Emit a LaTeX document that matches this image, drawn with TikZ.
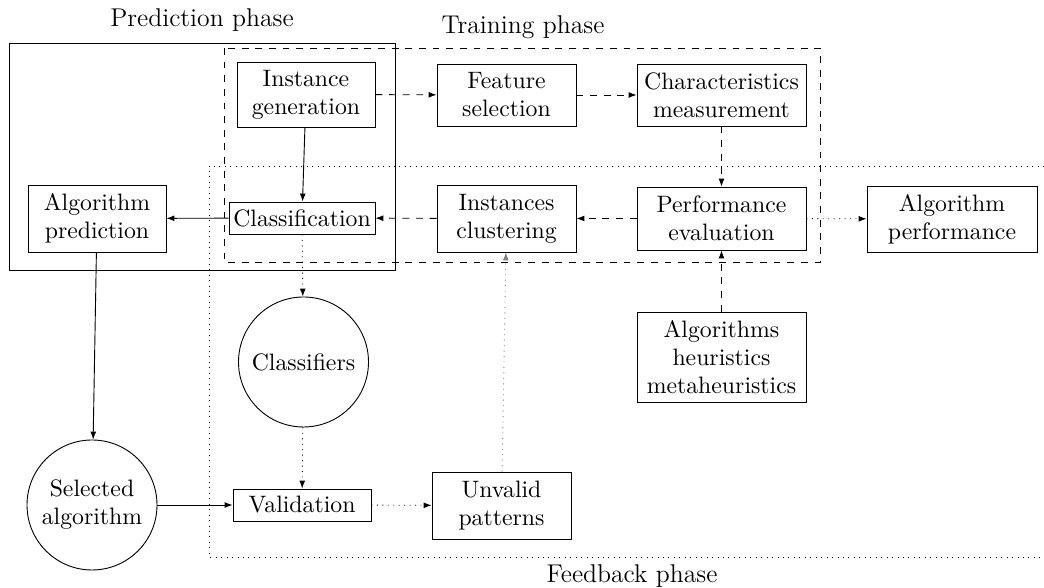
\documentclass[tikz,border=0pt]{standalone}
\usetikzlibrary{arrows.meta,shapes.geometric}
\begin{document}
\def\px{0.44pt}
\begin{tikzpicture}[x=0.44pt,y=-0.44pt,line width=0.4pt,
  every node/.style={font=\fontsize{10.45}{12.3}\selectfont},
  box/.style={draw, rectangle, align=center, inner sep=0pt},
  rnd/.style={draw, circle, align=center, inner sep=0pt, minimum size=130*\px},
  title/.style={font=\fontsize{11.3}{13.5}\selectfont},
  arr/.style={-{Latex[length=3.5pt,width=2.6pt]}}]
\useasboundingbox (0,0) rectangle (1044,588);

% phase frames
\draw (9,43) rectangle (395,270);
\draw[dashed] (224,48) rectangle (820,262);
\draw[dotted] (1044,166) -- (209,166) -- (209,557) -- (1044,557);
\node[title] (tpred) at (202,20) {Prediction phase};
\node[title] (ttrain) at (523,27) {Training phase};
\node[title] (tfeed) at (632,576) {Feedback phase};

% nodes
\node[box, minimum width=138*\px, minimum height=65*\px] (ig) at (306,94.5) {Instance\\generation};
\node[box, minimum width=139*\px, minimum height=62*\px] (fs) at (506.5,95) {Feature\\selection};
\node[box, minimum width=169*\px, minimum height=62*\px] (cm) at (721.5,95) {Characteristics\\measurement};
\node[box, minimum width=138*\px, minimum height=67*\px] (ap) at (97,218.5) {Algorithm\\prediction};
\node[box, minimum width=146*\px, minimum height=32*\px] (cl) at (302,218) {Classification};
\node[box, minimum width=139*\px, minimum height=67*\px] (ic) at (506.5,218.5) {Instances\\clustering};
\node[box, minimum width=169*\px, minimum height=63*\px] (pe) at (721.5,218.5) {Performance\\evaluation};
\node[box, minimum width=170*\px, minimum height=66*\px] (apf) at (952,219) {Algorithm\\performance};
\node[rnd] (cf) at (303.5,362) {Classifiers};
\node[rnd] (sa) at (92,505) {Selected\\algorithm};
\node[box, minimum width=138*\px, minimum height=32*\px] (va) at (302,505) {Validation};
\node[box, minimum width=139*\px, minimum height=67*\px] (up) at (501.5,505.5) {Unvalid\\patterns};
\node[box, minimum width=169*\px, minimum height=90*\px] (ah) at (721.5,357) {Algorithms\\heuristics\\metaheuristics};

% connectors
\draw[arr] (ig) -- (cl);
\draw[arr, dashed] (ig) -- (fs);
\draw[arr, dashed] (fs) -- (cm);
\draw[arr, dashed] (cm) -- (pe);
\draw[arr, dashed] (pe) -- (ic);
\draw[arr, dashed] (ic) -- (cl);
\draw[arr] (cl) -- (ap);
\draw[arr, dotted] (pe) -- (apf);
\draw[arr, dashed] (ah) -- (pe);
\draw[arr, dotted] (cl) -- (cf);
\draw[arr, dotted] (cf) -- (va);
\draw[arr] (ap) -- (sa);
\draw[arr] (sa) -- (va);
\draw[arr, dotted] (va) -- (up);
\draw[arr, dotted, gray] (up) -- (ic);
\end{tikzpicture}
\end{document}
